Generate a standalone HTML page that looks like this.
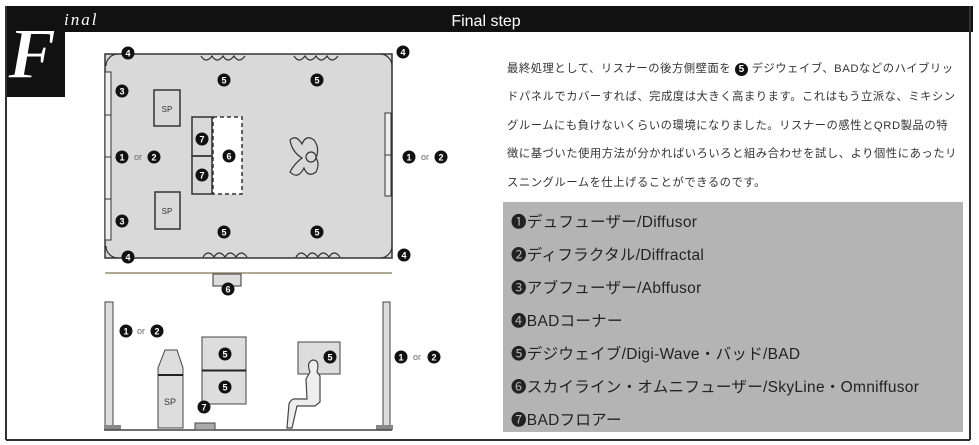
<!DOCTYPE html>
<html><head><meta charset="utf-8"><style>
body{margin:0;background:#fff;width:979px;height:445px;overflow:hidden;position:relative;font-family:"Liberation Sans","Noto Sans CJK JP",sans-serif}
.t{position:absolute;left:507px;top:55px;width:460px;font-size:11.3px;line-height:28.4px;color:#333;letter-spacing:0.55px;white-space:nowrap}
.lg{position:absolute;left:503px;top:202px;width:460px;height:230px;background:#b4b4b4}
.lg div{position:absolute;left:8px;font-size:15.5px;color:#222;white-space:nowrap;letter-spacing:0.3px}
</style></head><body>
<svg width="979" height="445" style="position:absolute;left:0;top:0" font-family="Liberation Sans, sans-serif">
<rect x="5" y="6" width="968" height="26" fill="#111"/>
<rect x="5" y="6" width="60" height="91" fill="#111"/>
<line x1="6" y1="6" x2="6" y2="440" stroke="#333" stroke-width="2"/>
<line x1="970" y1="6" x2="970" y2="440" stroke="#333" stroke-width="2"/>
<line x1="6" y1="440" x2="970" y2="440" stroke="#333" stroke-width="2"/>
<text x="8" y="78" font-family="Liberation Serif, serif" font-style="italic" font-weight="bold" font-size="72" fill="#fff" stroke="#111" stroke-width="1">F</text>
<text x="64" y="25" font-family="Liberation Serif, serif" font-style="italic" font-size="17" fill="#fff" letter-spacing="2">inal</text>
<text x="486" y="26" font-size="16" fill="#fff" text-anchor="middle">Final step</text>
<rect x="105" y="54" width="287" height="204" fill="#d9d9d9" stroke="#333" stroke-width="1.5"/>
<rect x="213" y="117" width="29" height="77" fill="#fff" stroke="#333" stroke-width="1.5" stroke-dasharray="4,3"/>
<rect x="105" y="72" width="6" height="168" fill="#eee" stroke="#333"/>
<line x1="105" y1="115" x2="111" y2="115" stroke="#333"/><line x1="105" y1="157" x2="111" y2="157" stroke="#333"/><line x1="105" y1="199" x2="111" y2="199" stroke="#333"/>
<rect x="385" y="113" width="6" height="83" fill="#eee" stroke="#333"/>
<line x1="385" y1="155" x2="391" y2="155" stroke="#333"/>
<g fill="none" stroke="#333" stroke-width="1.2">
<path d="M106 66 A12 12 0 0 1 118 54"/><path d="M380 54 A12 12 0 0 1 392 66"/>
<path d="M106 246 A12 12 0 0 0 118 258"/><path d="M380 258 A12 12 0 0 0 392 246"/>
<path d="M201 56 q5 8 11 0 q5 8 11 0 q5 8 11 0 q5 8 11 0"/><path d="M294 56 q5 8 11 0 q5 8 11 0 q5 8 11 0 q5 8 11 0"/>
<path d="M203 257 q5 -8 11 0 q5 -8 11 0 q5 -8 11 0 q5 -8 11 0"/><path d="M296 257 q5 -8 11 0 q5 -8 11 0 q5 -8 11 0 q5 -8 11 0"/>
<path d="M290 140 q6 -6 12 4 q4 -10 12 -4 q6 8 2 18 q4 6 0 14 q-8 6 -12 -4 q-6 12 -14 4 q4 -8 12 -14 q-10 -6 -12 -18z"/>
<circle cx="311" cy="157" r="5"/>
</g>
<rect x="154" y="90" width="26" height="36" fill="none" stroke="#333" stroke-width="1.5"/>
<rect x="155" y="192" width="25" height="37" fill="none" stroke="#333" stroke-width="1.5"/>
<text x="167" y="112" font-size="8" text-anchor="middle" fill="#333">SP</text>
<text x="167" y="214" font-size="8" text-anchor="middle" fill="#333">SP</text>
<rect x="192" y="117" width="20" height="39" fill="none" stroke="#333" stroke-width="1.5"/>
<rect x="192" y="156" width="20" height="38" fill="none" stroke="#333" stroke-width="1.5"/>
<line x1="105" y1="273" x2="392" y2="273" stroke="#b0a890" stroke-width="2"/>
<rect x="213" y="274" width="28" height="12" fill="#ddd" stroke="#333"/>
<rect x="105" y="302" width="8" height="124" fill="#ddd" stroke="#444"/>
<rect x="104" y="425" width="17" height="5" fill="#888"/>
<rect x="383" y="302" width="7" height="124" fill="#ddd" stroke="#444"/>
<rect x="376" y="425" width="17" height="5" fill="#888"/>
<line x1="104" y1="430" x2="392" y2="430" stroke="#444" stroke-width="1.5"/>
<path d="M165 350 h12 l6 18 v60 h-25 v-60z" fill="#ddd" stroke="#444"/>
<line x1="158" y1="375" x2="183" y2="375" stroke="#222" stroke-width="2"/>
<text x="170" y="405" font-size="9" text-anchor="middle" fill="#333">SP</text>
<rect x="202" y="337" width="44" height="33" fill="#ddd" stroke="#444"/>
<rect x="202" y="371" width="44" height="33" fill="#ddd" stroke="#444"/>
<line x1="202" y1="370.5" x2="246" y2="370.5" stroke="#222" stroke-width="2"/>
<rect x="195" y="423" width="20" height="7" fill="#aaa" stroke="#444"/>
<rect x="298" y="342" width="42" height="32" fill="#ddd" stroke="#444"/>
<g fill="#eee" stroke="#444" stroke-width="1.2">
<path d="M310 372 q-4 -10 3 -12 q7 0 4 12 l3 4 v26 l-5 4 h-18 l-5 22 h-5 l2 -24 q2 -6 8 -5 h10 l-1 -20z"/>
</g>
<g font-size="9" font-weight="bold" text-anchor="middle" fill="#fff">
<circle cx="128" cy="53" r="6.5" fill="#111"/><text x="128" y="56.5">4</text>
<circle cx="403" cy="52" r="6.5" fill="#111"/><text x="403" y="55.5">4</text>
<circle cx="128" cy="257" r="6.5" fill="#111"/><text x="128" y="260.5">4</text>
<circle cx="404" cy="255" r="6.5" fill="#111"/><text x="404" y="258.5">4</text>
<circle cx="224" cy="80" r="6.5" fill="#111"/><text x="224" y="83.5">5</text>
<circle cx="317" cy="80" r="6.5" fill="#111"/><text x="317" y="83.5">5</text>
<circle cx="224" cy="232" r="6.5" fill="#111"/><text x="224" y="235.5">5</text>
<circle cx="317" cy="232" r="6.5" fill="#111"/><text x="317" y="235.5">5</text>
<circle cx="122" cy="91" r="6.5" fill="#111"/><text x="122" y="94.5">3</text>
<circle cx="122" cy="221" r="6.5" fill="#111"/><text x="122" y="224.5">3</text>
<circle cx="122" cy="157" r="6.5" fill="#111"/><text x="122" y="160.5">1</text>
<circle cx="154" cy="157" r="6.5" fill="#111"/><text x="154" y="160.5">2</text>
<circle cx="409" cy="157" r="6.5" fill="#111"/><text x="409" y="160.5">1</text>
<circle cx="441" cy="157" r="6.5" fill="#111"/><text x="441" y="160.5">2</text>
<circle cx="202" cy="139" r="6.5" fill="#111"/><text x="202" y="142.5">7</text>
<circle cx="202" cy="175" r="6.5" fill="#111"/><text x="202" y="178.5">7</text>
<circle cx="229" cy="156" r="6.5" fill="#111"/><text x="229" y="159.5">6</text>
<circle cx="228" cy="289" r="6.5" fill="#111"/><text x="228" y="292.5">6</text>
<circle cx="126" cy="331" r="6.5" fill="#111"/><text x="126" y="334.5">1</text>
<circle cx="157" cy="331" r="6.5" fill="#111"/><text x="157" y="334.5">2</text>
<circle cx="401" cy="357" r="6.5" fill="#111"/><text x="401" y="360.5">1</text>
<circle cx="434" cy="357" r="6.5" fill="#111"/><text x="434" y="360.5">2</text>
<circle cx="225" cy="354" r="6.5" fill="#111"/><text x="225" y="357.5">5</text>
<circle cx="225" cy="387" r="6.5" fill="#111"/><text x="225" y="390.5">5</text>
<circle cx="330" cy="357" r="6.5" fill="#111"/><text x="330" y="360.5">5</text>
<circle cx="204" cy="407" r="6.5" fill="#111"/><text x="204" y="410.5">7</text>
</g>
<g font-size="9" fill="#666" text-anchor="middle">
<text x="138" y="160">or</text><text x="425" y="160">or</text>
<text x="141" y="334">or</text><text x="417" y="360">or</text>
</g>
</svg>
<div class="t">最終処理として、リスナーの後方側壁面を <span style="display:inline-block;width:13px;height:13px;border-radius:50%;background:#111;color:#fff;font-size:10px;line-height:13px;text-align:center;font-weight:bold;letter-spacing:0">5</span> デジウェイブ、BADなどのハイブリッ<br>ドパネルでカバーすれば、完成度は大きく高まります。これはもう立派な、ミキシン<br>グルームにも負けないくらいの環境になりました。リスナーの感性とQRD製品の特<br>徴に基づいた使用方法が分かればいろいろと組み合わせを試し、より個性にあったリ<br>スニングルームを仕上げることができるのです。</div>
<div class="lg">
<div style="top:8px">❶デュフューザー/Diffusor</div>
<div style="top:41px">❷ディフラクタル/Diffractal</div>
<div style="top:74px">❸アブフューザー/Abffusor</div>
<div style="top:107px">❹BADコーナー</div>
<div style="top:140px">❺デジウェイブ/Digi-Wave・バッド/BAD</div>
<div style="top:173px">❻スカイライン・オムニフューザー/SkyLine・Omniffusor</div>
<div style="top:206px">❼BADフロアー</div>
</div>
</body></html>
